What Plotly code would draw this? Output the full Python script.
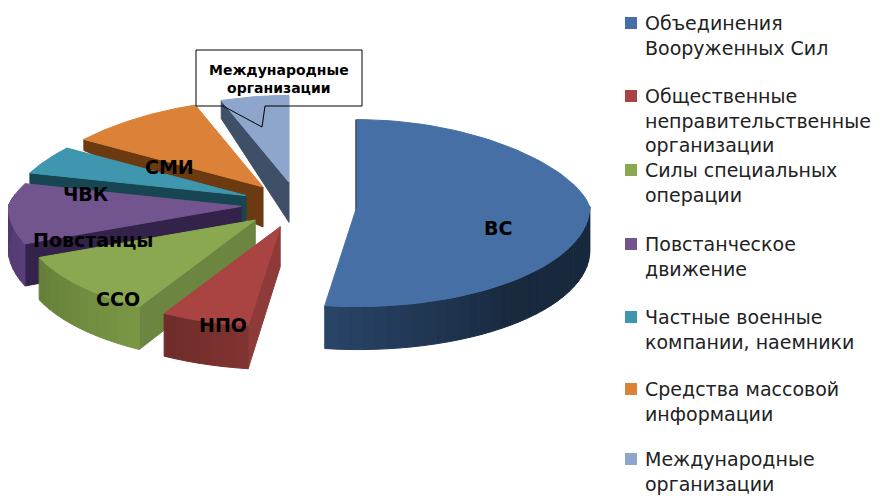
import numpy as np
import plotly.graph_objects as go

# --- data -------------------------------------------------------------
short_labels = ["ВС", "НПО", "ССО", "Повстанцы", "ЧВК", "СМИ", "Международные<br>организации"]
legend_labels = [
    "Объединения<br>Вооруженных Сил",
    "Общественные<br>неправительственные<br>организации",
    "Силы специальных<br>операции",
    "Повстанческое<br>движение",
    "Частные военные<br>компании, наемники",
    "Средства массовой<br>информации",
    "Международные<br>организации",
]
values = [52.2, 6.1, 10.6, 10.3, 5.0, 10.3, 5.5]
top_colors = ["#4670a5", "#a94442", "#8aa84f", "#72558f", "#3e97ae", "#dc8238", "#8ea5cc"]
wall_colors = ["#1c2f47", "#76302e", "#6f8a3f", "#523a70", "#174552", "#6b3a10", "#3f4f68"]
start_wall_colors = ["#16263a", "#8e3a38", "#6c8540", "#33234a", "#174552", "#6b3a10", "#3f4f68"]

# --- projection of the tilted pie ---------------------------------------
CX, CY = 299, 205
RX, RY_BACK, RY_FRONT = 233, 87, 100
EX, EY = 58, 23
DEPTH = 40


def proj(t):
    t = np.radians(t)
    c = np.cos(t)
    rx = RX * (1 - 0.15 * np.maximum(c, 0))  # the far side of the pie looks narrower
    return rx * np.sin(t), -c * np.where(c > 0, RY_BACK, RY_FRONT)


def rim_depth(t):
    return np.interp(t, [0, 90, 270, 285, 303, 340, 360], [18, 44, 42, 11, 11, 18, 18])


def shade(hex_color, f):
    r, g, b = (int(hex_color[i:i + 2], 16) for i in (1, 3, 5))
    return f"rgb({min(255, int(r * f))},{min(255, int(g * f))},{min(255, int(b * f))})"


def poly(x, y, color, width=1):
    return go.Scatter(x=list(x) + [x[0]], y=list(y) + [y[0]], mode="lines", fill="toself",
                      fillcolor=color, line=dict(color=color, width=width),
                      hoverinfo="skip", showlegend=False)


edges = np.concatenate([[0], np.cumsum(values)]) / sum(values) * 360
fig = go.Figure()

for i in reversed(range(len(values))):
    a0, a1 = edges[i], edges[i + 1]
    mid = (a0 + a1) / 2
    ax = CX + EX * np.sin(np.radians(mid))
    ay = CY - EY * np.cos(np.radians(mid))
    # start wall
    ox, oy = proj(a0)
    fig.add_trace(poly([ax, ax + ox, ax + ox, ax], [ay, ay + oy, ay + oy + rim_depth(a0), ay + DEPTH],
                       start_wall_colors[i], 3 if i == 0 else 1))
    # outer wall, split in shaded steps
    lo, hi = max(a0, 90), min(a1, 278)
    if hi > lo:
        steps = np.linspace(lo, hi, max(2, int((hi - lo) / 3)) + 1)
        for s0, s1 in zip(steps[:-1], steps[1:]):
            ss = np.linspace(s0, s1, 4)
            px, py = proj(ss)
            d = rim_depth(ss)
            sm = (s0 + s1) / 2
            f = np.interp(sm, [90, 140, 190, 280], [0.85, 0.9, 1.5, 1.0]) if i == 0 else \
                np.interp((sm - a0) / (a1 - a0), [0, 1], [1.1, 0.92])
            col = shade(wall_colors[i], f)
            fig.add_trace(poly(np.r_[ax + px, (ax + px)[::-1]],
                               np.r_[ay + py, (ay + py + d)[::-1]], col))
    # top face
    tt = np.linspace(a0, a1, 80)
    px, py = proj(tt)
    fig.add_trace(poly(np.r_[ax, ax + px], np.r_[ay, ay + py], top_colors[i]))

# slice labels
label_pos = [(498, 228), (223, 325), (118, 299), (93, 240), (86, 194), (169, 167)]
for txt, (x, y) in zip(short_labels[:6], label_pos):
    fig.add_annotation(x=x, y=y, text=f"<b>{txt}</b>", showarrow=False,
                       font=dict(family="DejaVu Sans", size=19, color="black"))
fig.add_annotation(x=279, y=79, text=f"<b>{short_labels[6]}</b>", showarrow=False,
                   font=dict(family="DejaVu Sans", size=14, color="black"))

# callout outline
fig.add_shape(type="path", path="M 223 106 L 262 127 L 265 106 L 362 106 L 362 50 L 196 50 L 196 106 Z",
              line=dict(color="black", width=1), fillcolor="rgba(0,0,0,0)", layer="above")

# legend
legend_y = [23, 96, 170, 244, 317, 389, 459]
for lab, col, y in zip(legend_labels, top_colors, legend_y):
    fig.add_trace(go.Scatter(x=[631], y=[y], mode="markers",
                             marker=dict(symbol="square", size=12, color=col),
                             hoverinfo="skip", showlegend=False))
    fig.add_annotation(x=643, y=y - 13, text=lab, showarrow=False, xanchor="left", yanchor="top",
                       align="left", font=dict(family="DejaVu Sans", size=19, color="#222222"))

# the page keeps an 8 px body margin: the plot starts at (8, 8)
fig.update_layout(width=875, height=489, margin=dict(l=0, r=0, t=0, b=0),
                  paper_bgcolor="white", plot_bgcolor="white", showlegend=False)
fig.update_xaxes(range=[8, 883], visible=False, fixedrange=True)
fig.update_yaxes(range=[497, 8], visible=False, fixedrange=True)
fig.write_html("out.html")
